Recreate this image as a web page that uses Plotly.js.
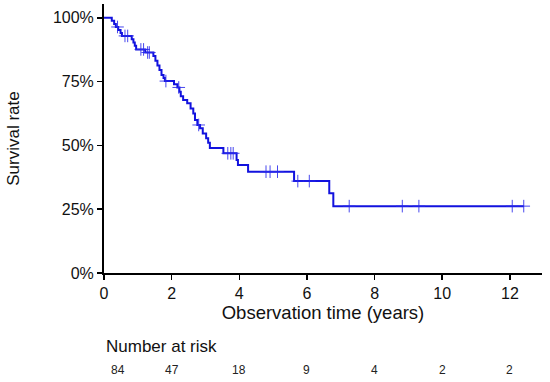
<!DOCTYPE html>
<html>
<head>
<meta charset="utf-8">
<script src="https://cdn.plot.ly/plotly-3.0.1.min.js"></script>
<style>html,body{margin:0;padding:0;background:#fff;}#chart{width:550px;height:382px;}</style>
</head>
<body>
<div id="chart"></div>
<script>
// Kaplan-Meier step curve (time in years, survival fraction)
var stepTimes = [0, 0.23, 0.30, 0.35, 0.42, 0.49, 0.53, 0.82, 0.87, 0.91, 0.95, 1.22,
  1.46, 1.52, 1.58, 1.64, 1.70, 1.76, 1.80, 2.07, 2.17, 2.23, 2.27, 2.34, 2.46, 2.56,
  2.64, 2.69, 2.76, 2.84, 2.92, 3.02, 3.08, 3.13, 3.53, 3.92, 3.96, 4.26, 5.62, 6.66,
  6.78, 12.41];
var stepSurv = [1, 0.988, 0.976, 0.964, 0.952, 0.940, 0.929, 0.916, 0.903, 0.890, 0.876, 0.864,
  0.850, 0.832, 0.813, 0.795, 0.776, 0.764, 0.752, 0.740, 0.727, 0.710, 0.693, 0.678, 0.665, 0.645,
  0.625, 0.599, 0.580, 0.567, 0.547, 0.528, 0.510, 0.490, 0.469, 0.443, 0.423, 0.397, 0.360, 0.312,
  0.262, 0.262];
// Censored observations
var censorTimes = [0.40, 0.62, 0.70, 1.09, 1.17, 1.29, 1.34, 1.83, 2.21, 2.80, 3.66, 3.75, 3.82,
  4.79, 4.91, 5.13, 5.73, 6.07, 7.25, 8.82, 9.31, 12.07, 12.41];
var censorSurv = [0.964, 0.929, 0.929, 0.876, 0.876, 0.864, 0.864, 0.752, 0.727, 0.580, 0.469, 0.469, 0.469,
  0.397, 0.397, 0.397, 0.360, 0.360, 0.262, 0.262, 0.262, 0.262, 0.262];
// Number at risk table
var riskTimes = [0, 2, 4, 6, 8, 10, 12];
var riskCounts = [84, 47, 18, 9, 4, 2, 2];
var yTickVals = [0, 0.25, 0.5, 0.75, 1];
var yTickText = ['0%', '25%', '50%', '75%', '100%'];
var xTickVals = [0, 2, 4, 6, 8, 10, 12];

var FONT = 'Liberation Sans, Arial, Helvetica, sans-serif';
var BLUE = 'rgb(18,18,222)';

var traces = [
  {x: stepTimes, y: stepSurv, type: 'scatter', mode: 'lines',
   line: {shape: 'hv', color: BLUE, width: 2}, hoverinfo: 'none'},
  {x: censorTimes, y: censorSurv, type: 'scatter', mode: 'markers',
   marker: {symbol: 'cross-thin-open', size: 9, color: 'rgba(40,40,235,0.85)',
            line: {width: 1, color: 'rgba(40,40,235,0.85)'}}, hoverinfo: 'none'}
];

var annotations = [{
  text: 'Number at risk', xref: 'paper', yref: 'paper', x: 0, y: -0.274,
  xanchor: 'left', yanchor: 'middle', showarrow: false,
  font: {family: FONT, size: 17, color: '#111'}
}];
riskTimes.forEach(function (t, i) {
  annotations.push({
    text: String(riskCounts[i]), xref: 'x', yref: 'paper', x: t, y: -0.36,
    xanchor: 'center', yanchor: 'middle', showarrow: false, xshift: i === 0 ? 14 : 0,
    font: {family: FONT, size: 12, color: '#222'}
  });
});

var layout = {
  width: 550, height: 382,
  margin: {l: 104, r: 8, t: 4, b: 109},
  paper_bgcolor: '#fff', plot_bgcolor: '#fff',
  showlegend: false,
  font: {family: FONT, color: '#111'},
  xaxis: {
    range: [0, 12.95], tickvals: xTickVals, ticks: 'outside', ticklen: 5, tickwidth: 1.5,
    tickcolor: '#000', showline: true, linecolor: '#000', linewidth: 2, showgrid: false,
    zeroline: false, tickfont: {family: FONT, size: 16, color: '#111'},
    title: {text: 'Observation time (years)', font: {family: FONT, size: 18.5, color: '#111'}, standoff: 4}
  },
  yaxis: {
    range: [0, 1.054], tickvals: yTickVals, ticktext: yTickText, ticks: 'outside', ticklen: 5,
    tickwidth: 1.5, tickcolor: '#000', showline: true, linecolor: '#000', linewidth: 2,
    showgrid: false, zeroline: false, tickfont: {family: FONT, size: 16, color: '#111'},
    title: {text: 'Survival rate', font: {family: FONT, size: 17, color: '#111'}, standoff: 29}
  },
  annotations: annotations
};

Plotly.newPlot('chart', traces, layout, {staticPlot: true, displayModeBar: false});
</script>
</body>
</html>
